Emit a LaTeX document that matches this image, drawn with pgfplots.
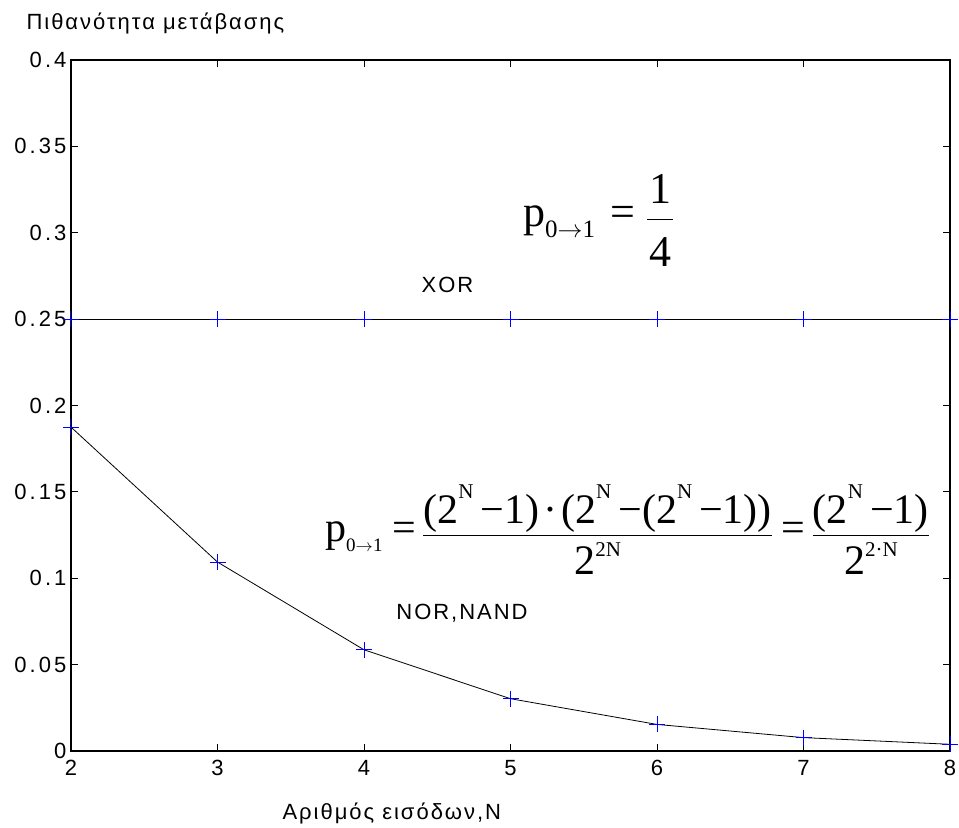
\documentclass[border=0pt]{standalone}
\usepackage{amsmath}
\usepackage{pgfplots}
\pgfplotsset{compat=1.18}
\usepackage{fontspec}
\setmainfont{Liberation Sans}[LetterSpace=9]
\newfontfamily\eqfont{Liberation Serif}
% raised or lowered small text: #1 shift, #2 size, #3 text
\newcommand\ex[3]{\raise#1\hbox{\fontsize{#2}{#2}\selectfont #3}}
\newcommand\tm[1]{\text{\eqfont #1}}
\newcommand\arr{\ensuremath{\rightarrow}}

% switching probability p(0->1) of an N-input gate
\pgfplotstableread{
N p
2 0.1875
3 0.109375
4 0.058594
5 0.030273
6 0.015381
7 0.007751
8 0.003891
}\norNand
\pgfplotstableread{
N p
2 0.25
3 0.25
4 0.25
5 0.25
6 0.25
7 0.25
8 0.25
}\xorGate

\begin{document}
\begin{tikzpicture}
\begin{axis}[
  name=ax,
  scale only axis,
  width=879pt, height=691pt,
  xmin=2, xmax=8, ymin=0, ymax=0.4,
  xtick={2,3,4,5,6,7,8},
  xticklabels={2,3,4,5,6,7,8},
  ytick={0,0.05,0.1,0.15,0.2,0.25,0.3,0.35,0.4},
  yticklabels={0,0.05,0.1,0.15,0.2,0.25,0.3,0.35,0.4},
  tick align=inside,
  major tick length=7pt,
  tick style={black, line width=0.8pt},
  axis line style={black, line width=1.2pt},
  ticklabel style={font=\fontsize{22}{26}\selectfont\addfontfeatures{LetterSpace=14}},
  xticklabel style={yshift=-6pt},
  yticklabel style={xshift=-1pt},
  xlabel={Αριθμός εισόδων,N},
  xlabel style={at={(axis description cs:0.365,0)}, anchor=base, yshift=-68pt,
    font=\fontsize{22}{26}\selectfont},
  ylabel={Πιθανότητα μετάβασης},
  ylabel style={rotate=-90, at={(axis description cs:0,1)}, anchor=base west,
    xshift=-48pt, yshift=30pt, font=\fontsize{22}{26}\selectfont},
  clip=false,
]
\addplot[black, line width=0.8pt] table[x=N, y=p] {\xorGate};
\addplot[black, line width=0.8pt] table[x=N, y=p] {\norNand};
\addplot[only marks, mark=+, blue, mark size=8pt, mark options={line width=1pt}]
  table[x=N, y=p] {\xorGate};
\addplot[only marks, mark=+, blue, mark size=8pt, mark options={line width=1pt}]
  table[x=N, y=p] {\norNand};

\node[font=\fontsize{22}{26}\selectfont] at (axis cs:4.570,0.2700) {XOR};
\node[font=\fontsize{22}{26}\selectfont] at (axis cs:4.669,0.0796) {NOR,NAND};

% p(0->1) = 1/4
\node[anchor=base west, inner sep=0pt, font=\fontsize{44}{50}\eqfont]
  at (axis cs:5.085,0.3039)
  {p\ex{-11pt}{25pt}{0\arr1}\hspace{15pt}=\hspace{11pt}%
   $\dfrac{\tm{1}\rule[-0.3em]{0pt}{0.3em}}{\rule{0pt}{0.98em}\tm{\kern2pt 4\kern2pt}}$};

% p(0->1) = (2^N-1)(2^N-(2^N-1))/2^{2N} = (2^N-1)/2^{2N}
\node[anchor=base west, inner sep=0pt, font=\fontsize{42}{48}\eqfont]
  at (axis cs:3.734,0.1210)
  {p\ex{-10pt}{19pt}{0\arr1}\hspace{10pt}=\hspace{6pt}%
   $\dfrac{\tm{(2\ex{25pt}{21pt}{N}\hspace{7pt}−1)\hspace{4pt}·\hspace{4pt}(2\ex{25pt}{21pt}{N}\hspace{7pt}−(2\ex{25pt}{21pt}{N}\hspace{7pt}−1))}}
          {\rule{0pt}{0.85em}\tm{2\ex{18pt}{21pt}{2N}}}$%
   \hspace{8pt}=\hspace{7pt}%
   $\dfrac{\tm{(2\ex{25pt}{21pt}{N}\hspace{7pt}−1)}}
          {\rule{0pt}{0.85em}\tm{2\ex{18pt}{21pt}{2·N}}}$};
\end{axis}
\pgfresetboundingbox
\path ([shift={(-71pt,-76pt)}]ax.south west) rectangle ([shift={(9pt,60pt)}]ax.north east);
\end{tikzpicture}
\end{document}
